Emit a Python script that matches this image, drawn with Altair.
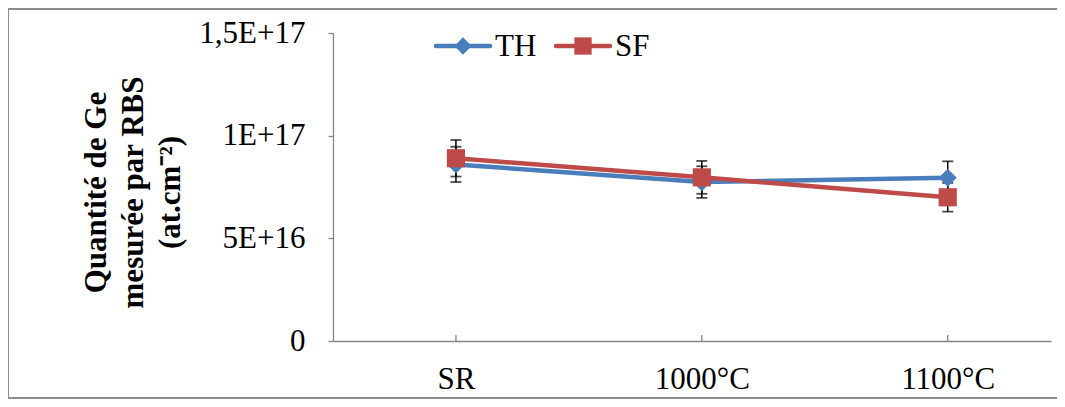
import altair as alt
import pandas as pd

categories = ["SR", "1000°C", "1100°C"]
series_names = ["TH", "SF"]
th_values = [8.6e16, 7.74e16, 7.95e16]
sf_values = [8.9e16, 7.97e16, 7.0e16]
th_errors = [8.6e15, 7.7e15, 8.0e15]
sf_errors = [8.9e15, 8.0e15, 7.0e15]
y_ticks = [0, 5e16, 1e17, 1.5e17]
y_tick_labels = ["0", "5E+16", "1E+17", "1,5E+17"]
y_title = ["Quantité de Ge", "mesurée par RBS", "(at.cm⁻²)"]
colors = ["#4A7EBB", "#BE4B48"]
shapes = ["diamond", "square"]

FONT = "Liberation Serif"
GREY = "#868686"
W, H = 718, 308

rows = []
for name, vals, errs in [("TH", th_values, th_errors), ("SF", sf_values, sf_errors)]:
    for i, (c, v, e) in enumerate(zip(categories, vals, errs)):
        rows.append({"idx": i, "category": c, "series": name, "value": v, "lo": v - e, "hi": v + e})
df = pd.DataFrame(rows)
cat_df = pd.DataFrame({"idx": list(range(len(categories))), "category": categories})
one = pd.DataFrame({"a": [0]})

x_label_expr = "[" + ",".join("'" + c + "'" for c in categories) + "][datum.value]"
y_label_expr = "[" + ",".join("'" + l + "'" for l in y_tick_labels) + "][round(datum.value/5e16)]"

x_scale = alt.Scale(domain=[-0.5, 2.42], nice=False, zero=False)
y_scale = alt.Scale(domain=[0, 1.5e17], nice=False)

x_axis = alt.Axis(values=list(range(len(categories))), labelExpr=x_label_expr, title=None,
                  ticks=False, labelPadding=23, grid=False)
y_axis = alt.Axis(values=y_ticks, labelExpr=y_label_expr, title=y_title, grid=False,
                  titleAngle=270, titleX=-237, titleY=H / 2 + 5, titleAlign="center",
                  titleBaseline="middle", titleLineHeight=37)


def X():
    return alt.X("idx:Q", scale=x_scale, axis=x_axis)


def Y(field):
    return alt.Y(field + ":Q", scale=y_scale, axis=y_axis)


frame = alt.Chart(one).mark_rect(fillOpacity=0, stroke="#8C8C8C", strokeWidth=2).encode(
    x=alt.value(-325), x2=alt.value(W + 60), y=alt.value(-24), y2=alt.value(H + 57)
)

xticks = alt.Chart(cat_df).mark_rule(color=GREY, strokeWidth=1.3).encode(
    x=X(), y=alt.value(H), y2=alt.value(H - 6)
)

err_rule = alt.Chart(df).mark_rule(color="black", strokeWidth=1.5).encode(
    x=X(), y=Y("lo"), y2="hi:Q"
)
cap_lo = alt.Chart(df).mark_tick(color="black", orient="horizontal", size=11, thickness=1.8).encode(
    x=X(), y=Y("lo")
)
cap_hi = alt.Chart(df).mark_tick(color="black", orient="horizontal", size=11, thickness=1.8).encode(
    x=X(), y=Y("hi")
)

layers = [frame, xticks, err_rule, cap_lo, cap_hi]

legend_x = [103, 223]
for k, name in enumerate(series_names):
    sub = df[df["series"] == name]
    line = alt.Chart(sub).mark_line(color=colors[k], strokeWidth=4.5).encode(x=X(), y=Y("value"))
    pts = alt.Chart(sub).mark_point(shape=shapes[k], filled=True, color=colors[k], size=330, opacity=1).encode(
        x=X(), y=Y("value")
    )
    layers += [line, pts]

for k, name in enumerate(series_names):
    lx = legend_x[k]
    ldf = pd.DataFrame({"label": [name]})
    lline = alt.Chart(ldf).mark_rule(color=colors[k], strokeWidth=4.5, strokeCap="round").encode(
        x=alt.value(lx), x2=alt.value(lx + 54), y=alt.value(13)
    )
    lpt = alt.Chart(ldf).mark_point(shape=shapes[k], filled=True, color=colors[k], size=300, opacity=1).encode(
        x=alt.value(lx + 27), y=alt.value(13)
    )
    ltext = alt.Chart(ldf).mark_text(align="left", baseline="middle", font=FONT, fontSize=31, color="black", dy=1).encode(
        x=alt.value(lx + 59), y=alt.value(13), text="label:N"
    )
    layers += [lline, lpt, ltext]

chart = alt.layer(*layers).properties(
    width=W, height=H,
    autosize=alt.AutoSizeParams(type="none"),
    padding={"left": 325, "top": 25, "right": 6, "bottom": 58},
).configure_view(stroke=None).configure_axis(
    labelFont=FONT, labelFontSize=31, labelColor="black",
    titleFont=FONT, titleFontSize=31, titleFontWeight="bold", titleColor="black",
    domainColor=GREY, domainWidth=1.3, tickColor=GREY, tickWidth=1.3,
).configure_axisY(tickSize=5, labelPadding=23)

chart.save("out.html", embed_options={"renderer": "svg", "actions": False})
